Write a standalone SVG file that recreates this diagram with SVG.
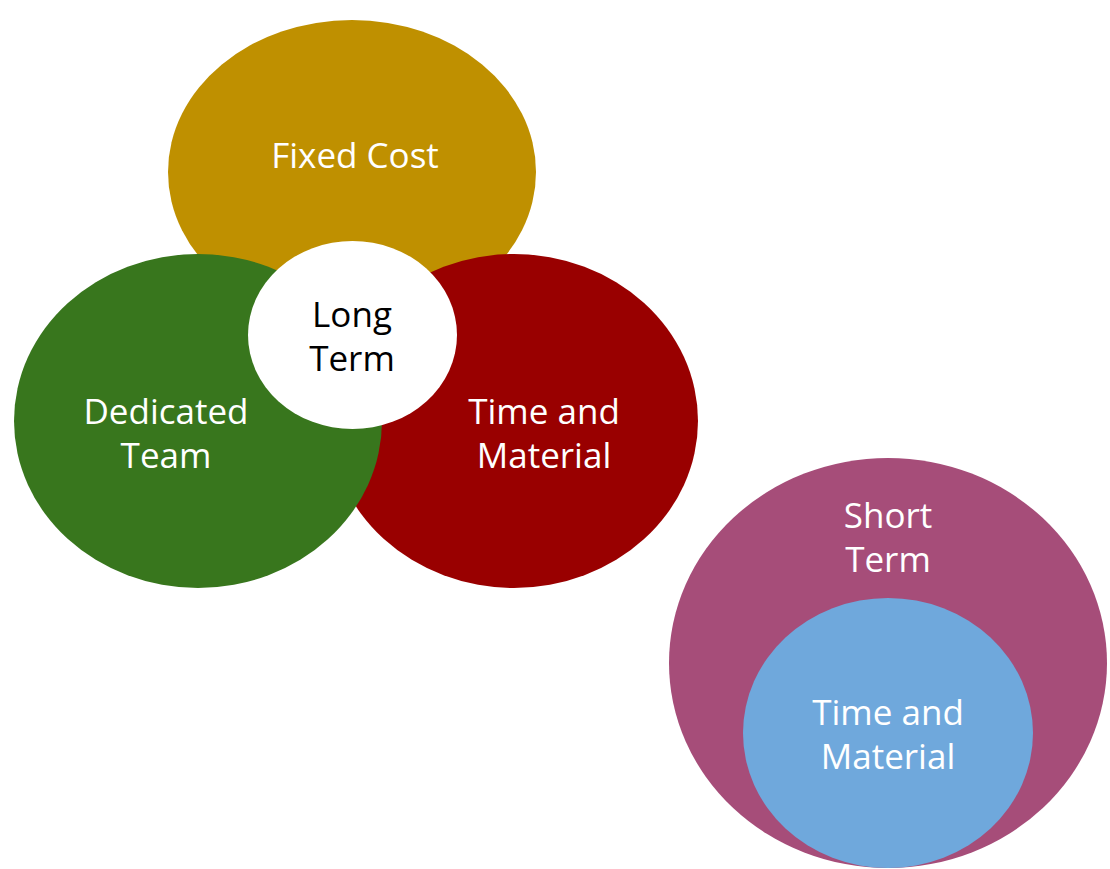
<svg xmlns="http://www.w3.org/2000/svg" width="1110" height="869" viewBox="0 0 1110 869">
<style>
text{font-family:"Open Sans","Noto Sans","DejaVu Sans",sans-serif;font-size:35px;text-anchor:middle}
.w{fill:#ffffff}
.k{fill:#000000}
</style>
<rect width="1110" height="869" fill="#ffffff"/>
<g id="fixed-cost">
<ellipse cx="352" cy="172" rx="184" ry="152" fill="#bf9000"/>
<text class="w" x="355" y="168">Fixed Cost</text>
</g>
<g id="time-material">
<ellipse cx="514" cy="421" rx="184" ry="167" fill="#990000"/>
<text class="w" x="544" y="424">Time and</text>
<text class="w" x="544" y="468">Material</text>
</g>
<g id="dedicated-team">
<ellipse cx="198" cy="421" rx="184" ry="167" fill="#38761d"/>
<text class="w" x="166" y="424">Dedicated</text>
<text class="w" x="166" y="468">Team</text>
</g>
<g id="long-term">
<ellipse cx="352.5" cy="335" rx="104.5" ry="94" fill="#ffffff"/>
<text class="k" x="352" y="327">Long</text>
<text class="k" x="352" y="371">Term</text>
</g>
<g id="short-term">
<ellipse cx="888" cy="663" rx="219" ry="205" fill="#a64d79"/>
<text class="w" x="888" y="528">Short</text>
<text class="w" x="888" y="572">Term</text>
</g>
<g id="short-time-material">
<ellipse cx="888" cy="733" rx="145" ry="135" fill="#6fa8dc"/>
<text class="w" x="888" y="725">Time and</text>
<text class="w" x="888" y="769">Material</text>
</g>
<g id="connectors"/>
</svg>
